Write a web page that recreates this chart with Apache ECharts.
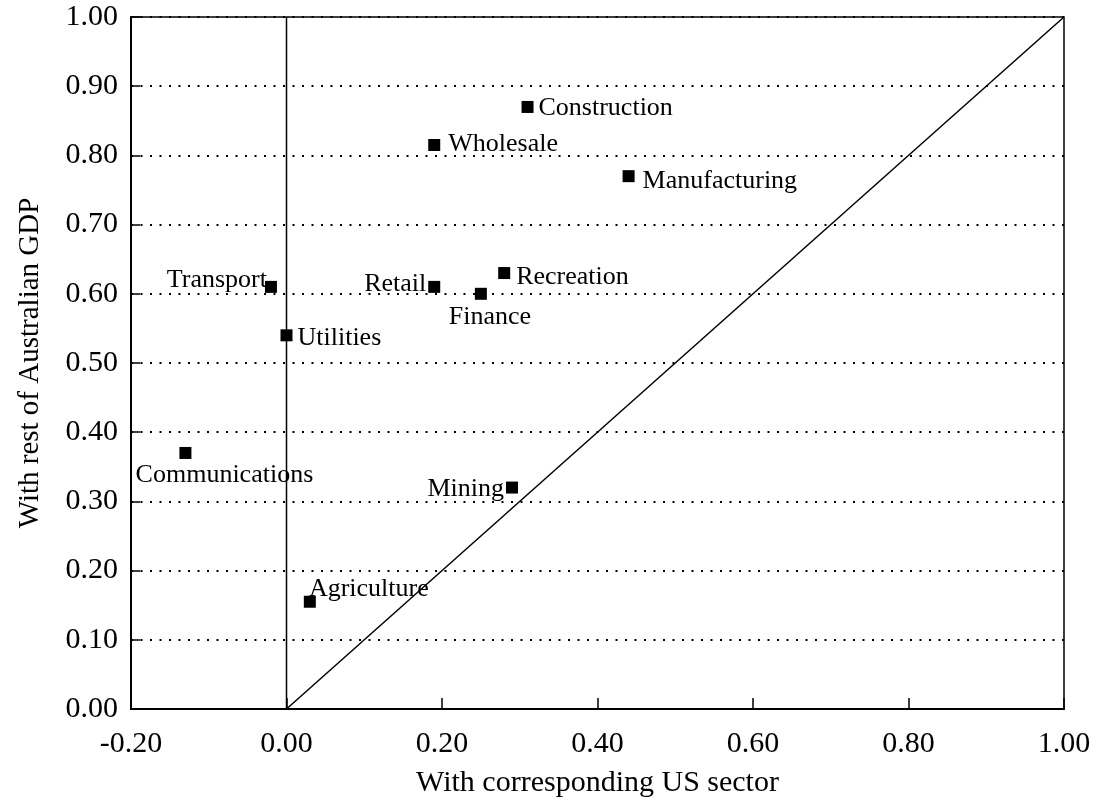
<!DOCTYPE html>
<html>
<head>
<meta charset="utf-8">
<script src="https://cdn.jsdelivr.net/npm/echarts@6/dist/echarts.min.js"></script>
<style>
html,body{margin:0;padding:0;background:#fff;}
#chart{width:1100px;height:803px;}
</style>
</head>
<body>
<div id="chart"></div>
<script>
// ---- data ----
const sectors = ['Construction','Wholesale','Manufacturing','Recreation','Retail','Finance','Transport','Utilities','Communications','Mining','Agriculture'];
const usCorr  = [0.31, 0.19, 0.44, 0.28, 0.19, 0.25, -0.02, 0.00, -0.13, 0.29, 0.03];
const ausCorr = [0.87, 0.815, 0.77, 0.63, 0.61, 0.60, 0.61, 0.54, 0.37, 0.32, 0.155];
const xTicks = [-0.2, 0, 0.2, 0.4, 0.6, 0.8, 1.0];
const yTicks = [0, 0.1, 0.2, 0.3, 0.4, 0.5, 0.6, 0.7, 0.8, 0.9, 1.0];
const diagonal = [[0, 0], [1, 1]];
const zeroLine = [[0, 0], [0, 1]];

// ---- label layout (align, dx, dy from marker centre) ----
const labelLayout = {
  Construction:   ['left', 11, 1],
  Wholesale:      ['left', 14, -1],
  Manufacturing:  ['left', 14, 5],
  Recreation:     ['left', 12, 4],
  Retail:         ['right', -8, -3],
  Finance:        ['center', 9, 23],
  Transport:      ['right', -4, -7],
  Utilities:      ['left', 11, 3],
  Communications: ['center', 39, 22],
  Mining:         ['right', -8, 2],
  Agriculture:    ['center', 59, -13]
};

const FONT = "'Liberation Serif', 'Times New Roman', serif";

const points = sectors.map((s, i) => {
  const l = labelLayout[s];
  return {
    name: s,
    value: [usCorr[i], ausCorr[i]],
    label: { show: true, position: 'inside', align: l[0], verticalAlign: 'middle', offset: [l[1], l[2]] }
  };
});

const chart = echarts.init(document.getElementById('chart'), null, { renderer: 'canvas' });
chart.setOption({
  animation: false,
  backgroundColor: '#fff',
  grid: { left: 131, right: 36, top: 17, bottom: 91, show: true, borderColor: '#000', borderWidth: 1.5, backgroundColor: 'transparent' },
  xAxis: {
    type: 'value', min: -0.2, max: 1.0, interval: 0.2,
    name: 'With corresponding US sector', nameLocation: 'middle', nameGap: 59,
    nameTextStyle: { fontFamily: FONT, fontSize: 30, color: '#000' },
    axisLine: { show: true, onZero: false, lineStyle: { color: '#000', width: 2 } },
    axisTick: { show: true, inside: true, length: 11, lineStyle: { color: '#000', width: 1.5 } },
    axisLabel: { fontFamily: FONT, fontSize: 30, color: '#000', margin: 20, formatter: v => v.toFixed(2) },
    splitLine: { show: false }
  },
  yAxis: {
    type: 'value', min: 0, max: 1.0, interval: 0.1,
    name: 'With rest of Australian GDP', nameLocation: 'middle', nameGap: 86,
    nameTextStyle: { fontFamily: FONT, fontSize: 29, color: '#000' },
    axisLine: { show: true, onZero: false, lineStyle: { color: '#000', width: 2 } },
    axisTick: { show: true, inside: true, length: 9, lineStyle: { color: '#000', width: 1.5 } },
    axisLabel: { fontFamily: FONT, fontSize: 30, color: '#000', margin: 13, formatter: v => v.toFixed(2) },
    splitLine: { show: true, lineStyle: { color: '#000', width: 2, type: [2, 7.5] } }
  },
  series: [
    {
      type: 'line', data: diagonal, symbol: 'none', silent: true,
      lineStyle: { color: '#000', width: 1.5 }, z: 2
    },
    {
      type: 'line', data: zeroLine, symbol: 'none', silent: true,
      lineStyle: { color: '#000', width: 1.5 }, z: 2
    },
    {
      type: 'scatter', data: points, symbol: 'rect', symbolSize: 12,
      itemStyle: { color: '#000', opacity: 1 },
      label: { fontFamily: FONT, fontSize: 26, color: '#000', formatter: '{b}' },
      emphasis: { disabled: true },
      z: 3
    }
  ]
});
</script>
</body>
</html>
